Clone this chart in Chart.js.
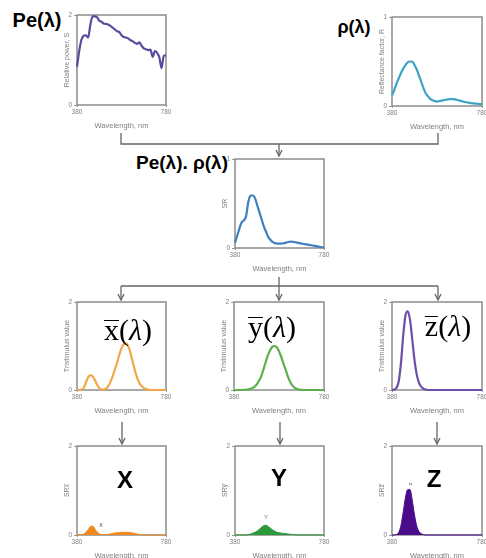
<!DOCTYPE html>
<html>
<head>
<meta charset="utf-8">
<script src="https://cdn.jsdelivr.net/npm/chart.js@4.4.0/dist/chart.umd.min.js"></script>
<style>
body{margin:0;width:486px;height:558px;overflow:hidden;background:#fff;position:relative;font-family:"Liberation Sans",Arial,sans-serif}
canvas{position:absolute}
svg{position:absolute;left:0;top:0}
.lbl{position:absolute;transform:translate(-50%,-50%);white-space:nowrap;color:#000;line-height:1}
.b{font-weight:bold}
.serif{font-family:"Liberation Serif","Times New Roman",serif}
.small{color:#666}
.bar{display:inline-block;line-height:0.5em;border-top:1.5px solid #000;padding-top:1px}
</style>
</head>
<body>

<!-- Verbindungslinien zwischen den Diagrammen -->
<svg width="486" height="558">
  <g stroke="#666" stroke-width="1.3" fill="none">
    <polyline points="121,133 121,144 438,144 438,133"/>
    <line x1="279" y1="144" x2="279" y2="156"/>
    <polyline points="276,150 279,156 282,150"/>
    <line x1="279" y1="277" x2="279" y2="286"/>
    <line x1="121" y1="286" x2="438" y2="286"/>
    <line x1="121" y1="286" x2="121" y2="300"/>
    <line x1="279" y1="286" x2="279" y2="300"/>
    <line x1="438" y1="286" x2="438" y2="300"/>
    <polyline points="118,294 121,300 124,294"/>
    <polyline points="276,294 279,300 282,294"/>
    <polyline points="435,294 438,300 441,294"/>
    <line x1="122" y1="422" x2="122" y2="444"/>
    <line x1="280" y1="422" x2="280" y2="444"/>
    <line x1="437" y1="422" x2="437" y2="444"/>
    <polyline points="119,438 122,444 125,438"/>
    <polyline points="277,438 280,444 283,438"/>
    <polyline points="434,438 437,444 440,438"/>
  </g>
</svg>

<div class="lbl b" style="left:37px;top:20px;font-size:20px">Pe(λ)</div>
<div class="lbl b" style="left:354px;top:27px;font-size:18px">ρ(λ)</div>
<div class="lbl b" style="left:182px;top:162px;font-size:19px">Pe(λ). ρ(λ)</div>

<script>
// Wellenlängen in nm
const wavelengths = [380,390,400,410,420,430,440,450,460,470,480,490,500,510,520,530,540,550,560,570,580,590,600,610,620,630,640,650,660,670,680,690,700,710,720,730,740,750,760,770,780];

// Relative Leistung der Lichtquelle Pe(λ)
const pePower = [0.85,1.20,1.45,1.54,1.55,1.50,1.78,1.97,1.97,1.95,1.87,1.85,1.81,1.80,1.79,1.76,1.72,1.68,1.64,1.62,1.55,1.51,1.50,1.48,1.44,1.42,1.38,1.36,1.39,1.32,1.26,1.24,1.22,1.23,1.07,1.20,1.16,1.06,0.82,1.10,1.10];
// Reflexionsgrad ρ(λ)
const reflectance = [0.12,0.18,0.25,0.31,0.37,0.42,0.46,0.49,0.50,0.50,0.46,0.41,0.34,0.27,0.20,0.14,0.11,0.08,0.065,0.055,0.05,0.055,0.06,0.065,0.07,0.075,0.078,0.078,0.075,0.068,0.06,0.055,0.048,0.042,0.037,0.033,0.03,0.027,0.025,0.022,0.02];
// Produkt SR
const srProduct = [0.06,0.14,0.22,0.29,0.31,0.36,0.52,0.59,0.59,0.56,0.48,0.40,0.32,0.24,0.18,0.12,0.09,0.065,0.055,0.05,0.05,0.05,0.055,0.06,0.068,0.072,0.07,0.065,0.06,0.055,0.05,0.045,0.04,0.036,0.032,0.028,0.023,0.018,0.013,0.008,0.005];

// Normspektralwertkurven
const xBar = [0,0,0.01,0.05,0.17,0.29,0.34,0.31,0.23,0.12,0.05,0.01,0.01,0.03,0.08,0.18,0.31,0.46,0.62,0.80,0.95,1.04,1.06,1.00,0.85,0.65,0.45,0.28,0.16,0.09,0.05,0.02,0.01,0,0,0,0,0,0,0,0];
const yBar = [0,0,0,0,0,0.005,0.01,0.02,0.04,0.07,0.12,0.20,0.30,0.45,0.62,0.78,0.90,0.98,1.00,0.97,0.88,0.75,0.60,0.45,0.30,0.18,0.10,0.05,0.025,0.01,0.005,0,0,0,0,0,0,0,0,0,0];
const zBar = [0,0.01,0.05,0.20,0.62,1.25,1.70,1.79,1.60,1.15,0.68,0.35,0.16,0.07,0.03,0.01,0,0,0,0,0,0,0,0,0,0,0,0,0,0,0,0,0,0,0,0,0,0,0,0,0];

// SR * Normspektralwert
const srX = [0,0,0.005,0.02,0.06,0.12,0.19,0.20,0.14,0.07,0.03,0.01,0.005,0.01,0.015,0.025,0.035,0.045,0.05,0.055,0.06,0.062,0.062,0.06,0.055,0.045,0.035,0.02,0.012,0.006,0.003,0,0,0,0,0,0,0,0,0,0];
const srY = [0,0,0,0,0,0,0.01,0.02,0.04,0.06,0.09,0.13,0.18,0.21,0.22,0.19,0.15,0.11,0.08,0.06,0.05,0.04,0.035,0.03,0.022,0.015,0.01,0.006,0.003,0,0,0,0,0,0,0,0,0,0,0,0];
const srZ = [0,0,0.01,0.06,0.22,0.52,0.85,1.02,1.02,0.78,0.45,0.20,0.08,0.03,0.01,0,0,0,0,0,0,0,0,0,0,0,0,0,0,0,0,0,0,0,0,0,0,0,0,0,0];

Chart.defaults.font.family = '"Liberation Sans", Arial, sans-serif';

// Rahmen um die Zeichenfläche
const framePlugin = {
    id: 'frame',
    beforeDatasetsDraw(chart) {
        const a = chart.chartArea, c = chart.ctx;
        c.save();
        c.strokeStyle = '#8c8c8c';
        c.lineWidth = 1.5;
        c.strokeRect(a.left, a.top, a.right - a.left, a.bottom - a.top);
        c.restore();
    }
};

// Diagramm erzeugen, (L,T) = linke obere Ecke der Zeichenfläche
function addChart(L, T, W, H, yMax, yTitle, values, color, filled) {
    const cv = document.createElement('canvas');
    cv.width = 20 + W + 8;
    cv.height = 8 + H + 26;
    cv.style.left = (L - 20) + 'px';
    cv.style.top = (T - 8) + 'px';
    document.body.appendChild(cv);

    new Chart(cv.getContext('2d'), {
        type: 'line',
        data: {
            datasets: [{
                data: wavelengths.map((w, i) => ({x: w, y: values[i]})),
                borderColor: color,
                backgroundColor: color,
                borderWidth: filled ? 1 : 2.2,
                fill: filled ? 'origin' : false,
                pointRadius: 0,
                cubicInterpolationMode: 'monotone',
                clip: 3,
            }]
        },
        options: {
            responsive: false,
            animation: false,
            devicePixelRatio: 1,
            layout: {padding: {left: 4, top: 8, right: 8, bottom: 0}},
            plugins: {legend: {display: false}, tooltip: {enabled: false}},
            scales: {
                x: {
                    type: 'linear', min: 380, max: 780,
                    afterBuildTicks: s => { s.ticks = [{value: 380}, {value: 780}]; },
                    afterFit: s => { s.height = 26; },
                    ticks: {font: {size: 6.5}, color: '#808080', maxRotation: 0, autoSkip: false, padding: 1},
                    grid: {drawOnChartArea: false, tickLength: 2, color: '#999'},
                    border: {display: false},
                    title: {display: true, text: 'Wavelength, nm', font: {size: 7.5}, color: '#808080', padding: {top: 0, bottom: 1}},
                },
                y: {
                    min: 0, max: yMax,
                    afterBuildTicks: s => { s.ticks = [{value: 0}, {value: yMax}]; },
                    afterFit: s => { s.width = 16; },
                    ticks: {font: {size: 6.5}, color: '#808080', autoSkip: false, padding: 2},
                    grid: {drawOnChartArea: false, tickLength: 3, color: '#999'},
                    border: {display: false},
                    title: {display: true, text: yTitle, font: {size: 7}, color: '#808080', padding: {top: 2, bottom: 0}},
                }
            }
        },
        plugins: [framePlugin]
    });
}

addChart(77, 15, 89, 90, 2, 'Relative power, S', pePower, '#5b4b9e', false);
addChart(392, 17, 90, 89, 1, 'Reflectance factor, R', reflectance, '#3ba3c4', false);
addChart(235, 159, 89, 89, 1, 'SR', srProduct, '#3f7fc0', false);

addChart(77, 302, 89, 88, 2, 'Tristimulus value', xBar, '#f2a848', false);
addChart(234, 302, 90, 88, 2, 'Tristimulus value', yBar, '#5cb04c', false);
addChart(392, 302, 90, 88, 2, 'Tristimulus value', zBar, '#6b4fa8', false);

addChart(77, 446, 89, 89, 2, 'SRx\u0305', srX, '#f08a1c', true);
addChart(235, 446, 89, 89, 2, 'SRy\u0305', srY, '#2a9a3a', true);
addChart(392, 446, 90, 89, 2, 'SRz\u0305', srZ, '#4b0c8c', true);

// Beschriftungen über den Diagrammen
function addLabel(html, x, y, cls, style) {
    const d = document.createElement('div');
    d.className = 'lbl ' + cls;
    d.innerHTML = html;
    d.style.left = x + 'px';
    d.style.top = y + 'px';
    d.style.cssText += style;
    document.body.appendChild(d);
}
addLabel('<span class="bar">x</span>(<i>λ</i>)', 128, 330, 'serif', 'font-size:30px');
addLabel('<span class="bar">y</span>(<i>λ</i>)', 272, 327, 'serif', 'font-size:30px');
addLabel('<span class="bar">z</span>(<i>λ</i>)', 448, 326, 'serif', 'font-size:30px');
addLabel('X', 125, 480, 'b', 'font-size:24px');
addLabel('Y', 279, 478, 'b', 'font-size:24px');
addLabel('Z', 434, 479, 'b', 'font-size:24px');
addLabel('x', 101, 524, 'small', 'font-size:7px');
addLabel('Y', 266, 517, 'small', 'font-size:6px');
addLabel('z', 410, 484, 'small', 'font-size:6px;transform:translate(-50%,-50%) rotate(-90deg)');
</script>
</body>
</html>
